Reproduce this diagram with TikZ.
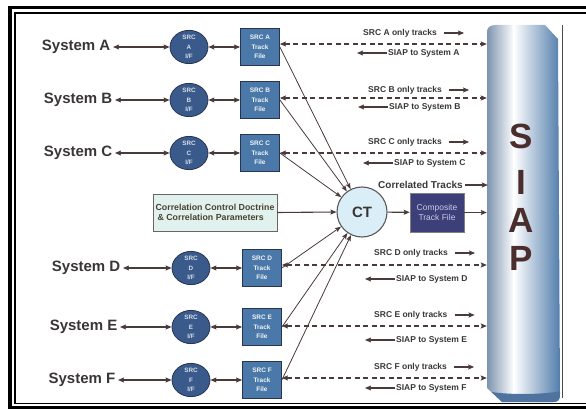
\documentclass[tikz,border=0pt]{standalone}
\usepackage{fontspec}
\setmainfont{Liberation Sans}
\usetikzlibrary{arrows.meta,shapes.geometric}

\definecolor{arrowc}{HTML}{4A3A3A}
\definecolor{ifc}{HTML}{3A5A8C}
\definecolor{tfc}{HTML}{4A78A8}
\definecolor{edgec}{HTML}{283450}
\definecolor{txtc}{HTML}{3A3636}
\definecolor{ctfill}{HTML}{D9EEF7}
\definecolor{ccfill}{HTML}{E0F1EE}
\definecolor{cctext}{HTML}{4A4230}
\definecolor{compc}{HTML}{3C3F78}
\definecolor{comptext}{HTML}{C9CBE6}
\definecolor{siapl}{HTML}{7890AC}
\definecolor{siapr}{HTML}{4A78A8}
\definecolor{siapbase}{HTML}{4E739E}
\definecolor{letterc}{HTML}{4A2E2E}

\begin{document}
\begin{tikzpicture}[x=1pt,y=-1pt,
  arr/.style={-{Stealth[length=6pt,width=5pt,inset=1pt]}, line width=1.1pt, draw=arrowc},
  dbl/.style={{Stealth[length=6pt,width=5pt,inset=1pt]}-{Stealth[length=6pt,width=5pt,inset=1pt]}, line width=1.1pt, draw=arrowc},
  dsh/.style={{Stealth[length=6pt,width=5pt,inset=1pt]}-{Stealth[length=6pt,width=5pt,inset=1pt]}, line width=1.1pt, draw=arrowc, dash pattern=on 5pt off 3.5pt},
  feed/.style={-{Stealth[length=6pt,width=4.5pt,inset=1pt]}, line width=0.8pt, draw=arrowc},
  syslbl/.style={font=\bfseries\fontsize{15}{16}\selectfont, text=txtc, inner sep=2.5pt, anchor=east},
  lbl/.style={font=\bfseries\fontsize{8.5}{10}\selectfont, text=txtc, inner sep=1pt, anchor=west},
  ifnode/.style={ellipse, minimum width=38pt, minimum height=33pt, inner sep=0pt, fill=ifc, draw=edgec, line width=0.8pt,
    text=ifc!20!white, align=center, font=\bfseries\fontsize{6.3}{9.5}\selectfont},
  tfnode/.style={rectangle, minimum width=39pt, minimum height=37pt, inner sep=0pt, fill=tfc, draw=edgec, line width=0.8pt,
    text=white!92!tfc, align=center, font=\bfseries\fontsize{6.5}{9.5}\selectfont},
]
\useasboundingbox (0,0) rectangle (586,409);

% double frame, running off the right edge
\begin{scope}
  \clip (0,0) rectangle (586,409);
  \draw[line width=3.3pt] (10,7.5) rectangle (600,407.5);
  \draw[line width=1.5pt] (14.8,13) rectangle (600,403.3);
\end{scope}
\draw[black!70, line width=0.7pt] (562,25) -- (562,398);

% SIAP column
\node[minimum width=73pt, minimum height=377pt, inner sep=0pt] (siap) at (523.5,213.5) {};
\begin{scope}
  \clip (487,388) -- (487,33) .. controls (487,27) and (490,25) .. (496,25) -- (545,25) -- (558,39)
        -- (560,394) .. controls (560,400) and (558,402) .. (553,402) -- (502,402) -- cycle;
  \shade[left color=siapl, right color=white] (486,20) rectangle (514,406);
  \shade[left color=white, right color=siapr] (513.5,20) rectangle (562,406);
  \fill[siapbase] (486,391) .. controls (505,395) and (540,395) .. (562,391) -- (562,406) -- (486,406) -- cycle;
\end{scope}
\foreach \ch/\yy in {S/136, I/182, A/220, P/258}
  \node[font=\bfseries\fontsize{35}{35}\selectfont, text=letterc, inner sep=0pt] (siap\ch) at (521,\yy) {\ch};

% correlation engine
\node[circle, minimum size=50pt, inner sep=0pt, fill=ctfill, draw=black!65, line width=1.1pt,
      font=\bfseries\fontsize{15}{15}\selectfont, text=txtc] (ct) at (362,212) {CT};
\node[rectangle, minimum width=124pt, minimum height=37pt, inner sep=0pt, fill=ccfill, draw=black!60, line width=0.9pt,
      text=cctext, align=left, font=\bfseries\fontsize{8.8}{9.5}\selectfont] (ccd) at (215,212.5)
      {Correlation Control Doctrine\\\hspace*{2pt}\& Correlation Parameters};
\node[rectangle, minimum width=54pt, minimum height=39pt, inner sep=0pt, fill=compc, draw=black!50, line width=0.6pt,
      text=comptext, align=center, font=\fontsize{8.5}{10}\selectfont] (comp) at (437,212.5) {Composite\\Track File};
\node[font=\bfseries\fontsize{10}{12}\selectfont, text=txtc, inner sep=1pt, anchor=west] (corr) at (377,185) {Correlated Tracks};

\draw[arr] (ccd.east) -- (ct.west);
\draw[arr] (ct) -- (comp);
\draw[arr] (comp.east) -- (comp.east -| siap.west);
\draw[arr] ([xshift=1pt]corr.east) -- ([xshift=1pt]corr.east -| siap.west);

% one row per source system
\foreach \r/\y/\sx/\cx/\bx/\tx/\ty/\dy/\lx/\ly in {
    A/47/113/189/260/362/33/44/387/53,
    B/100/115/189/260/367/90/98/388/107,
    C/153/115/189/260/367/142/153/393/163,
    D/268/123/191/262/373/253/265/395/279,
    E/327/120/191/262/373/315/326/395/340,
    F/380/118/191/262/373/367/378/395/388}{
  \node[syslbl] (sys\r) at (\sx,\y) {System \r};
  \node[ifnode] (if\r) at (\cx,\y) {SRC\\\r\\I/F};
  \node[tfnode] (tf\r) at (\bx,\y) {SRC \r\\Track\\File};
  \draw[dbl] (sys\r.east) -- (if\r.west);
  \draw[dbl] (if\r.east) -- (tf\r.west);
  \coordinate (d\r) at (0,\dy);
  \draw[dsh] (tf\r.east |- d\r) -- (siap.west |- d\r);
  \node[lbl] (top\r) at (\tx,\ty) {SRC \r\ only tracks};
  \draw[arr] ([xshift=6pt]top\r.east) -- ++(20,0);
  \node[lbl] (bot\r) at (\lx,\ly) {SIAP to System \r};
  \draw[arr] (bot\r.west) -- ++(-30,0);
  \draw[feed] (tf\r.east) -- (ct);
}
\end{tikzpicture}
\end{document}
